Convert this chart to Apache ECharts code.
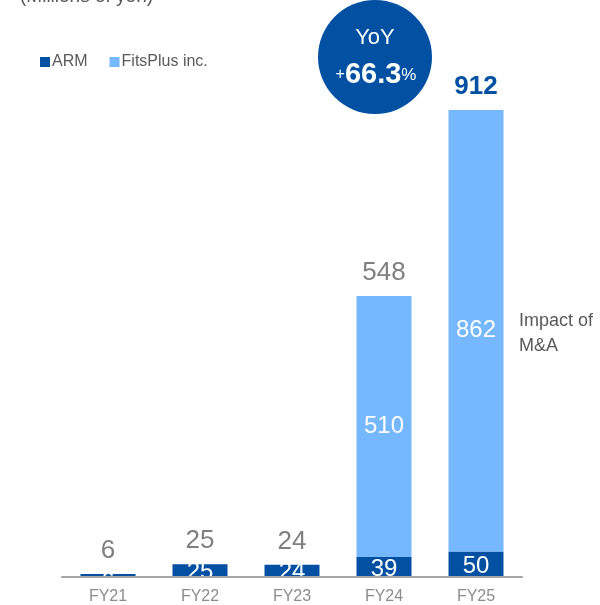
<!DOCTYPE html>
<html>
<head>
<meta charset="utf-8">
<script src="https://cdn.jsdelivr.net/npm/echarts@6/dist/echarts.min.js"></script>
<style>html,body{margin:0;padding:0;background:#fff;}#c{width:600px;height:605px;}</style>
</head>
<body>
<div id="c"></div>
<script>
const categories = ['FY21', 'FY22', 'FY23', 'FY24', 'FY25'];
const armValues = [6, 25, 24, 39, 50];
const fitsValues = [0, 0, 0, 510, 862];
const totalValues = [6, 25, 24, 548, 912];

const DARK = '#0150A2';
const LIGHT = '#76B8FF';
const FONT = 'Liberation Sans, Arial, sans-serif';

const chart = echarts.init(document.getElementById('c'), null, { renderer: 'canvas' });

const armData = armValues.map(v => ({
  value: v,
  label: v < 30
    ? { position: 'insideTop', distance: 0, offset: [0, -4] }
    : { position: 'inside', offset: [0, 2] }
}));

const totalData = totalValues.map((v, i) => ({
  value: 0,
  label: i === totalValues.length - 1
    ? { color: DARK, fontWeight: 'bold', fontSize: 26 }
    : { color: '#7F7F7F', fontSize: 26 }
}));

chart.setOption({
  animation: false,
  textStyle: { fontFamily: FONT },
  grid: { left: 62, right: 78, top: 65, bottom: 27 },
  legend: {
    data: ['ARM', 'FitsPlus inc.'],
    left: 35, top: 49,
    icon: 'rect', itemWidth: 10, itemHeight: 10, itemGap: 22,
    textStyle: { color: '#595959', fontSize: 16, fontFamily: FONT, padding: [0, 0, 0, -3] }
  },
  xAxis: {
    type: 'category',
    data: categories,
    z: 10,
    axisLine: { lineStyle: { color: '#A6A6A6', width: 2 } },
    axisTick: { show: false },
    axisLabel: { color: '#8C8C8C', fontSize: 16, margin: 12, fontFamily: FONT }
  },
  yAxis: { type: 'value', min: 0, max: 1000, show: false, splitLine: { show: false } },
  series: [
    {
      name: 'ARM', type: 'bar', stack: 'a', barWidth: 55,
      itemStyle: { color: DARK },
      label: { show: true, color: '#fff', fontSize: 24, fontFamily: FONT },
      data: armData
    },
    {
      name: 'FitsPlus inc.', type: 'bar', stack: 'a', barWidth: 55,
      itemStyle: { color: LIGHT },
      label: { show: true, position: 'inside', color: '#fff', fontSize: 24, fontFamily: FONT,
        formatter: p => (p.value ? String(p.value) : '') },
      data: fitsValues
    },
    {
      name: 'Total', type: 'bar', stack: 'a', barWidth: 55,
      itemStyle: { color: 'transparent' },
      label: { show: true, position: 'top', distance: 10, fontFamily: FONT,
        formatter: p => String(totalValues[p.dataIndex]) },
      data: totalData
    }
  ]
});

const y0 = chart.convertToPixel({ yAxisIndex: 0 }, 0);
chart.setOption({
  graphic: [
    { type: 'rect', z: 5, shape: { x: 62, y: y0 + 1, width: 462, height: 11 }, style: { fill: '#fff' } },
    { type: 'text', left: 20, top: -13, style: { text: '(Millions of yen)', fill: '#595959', fontSize: 19, fontFamily: FONT } },
    { type: 'circle', shape: { cx: 375, cy: 57, r: 57 }, style: { fill: DARK } },
    { type: 'text', z: 10, style: { x: 375, y: 38, text: 'YoY', fill: '#fff', fontSize: 22, fontFamily: FONT, align: 'center', verticalAlign: 'middle' } },
    { type: 'text', z: 10, style: { x: 376, y: 75, text: '{a|+}{b|66.3}{c|%}', align: 'center', verticalAlign: 'middle', fontFamily: FONT,
      rich: {
        a: { fill: '#fff', fontSize: 16, fontFamily: FONT, verticalAlign: 'middle' },
        b: { fill: '#fff', fontSize: 29, fontWeight: 'bold', fontFamily: FONT, verticalAlign: 'middle' },
        c: { fill: '#fff', fontSize: 17, fontFamily: FONT, verticalAlign: 'middle' }
      } } },
    { type: 'text', style: { x: 519, y: 334, text: 'Impact of\nM&A', fill: '#595959', fontSize: 18, lineHeight: 25, fontFamily: FONT, verticalAlign: 'middle' } }
  ]
});
</script>
</body>
</html>
